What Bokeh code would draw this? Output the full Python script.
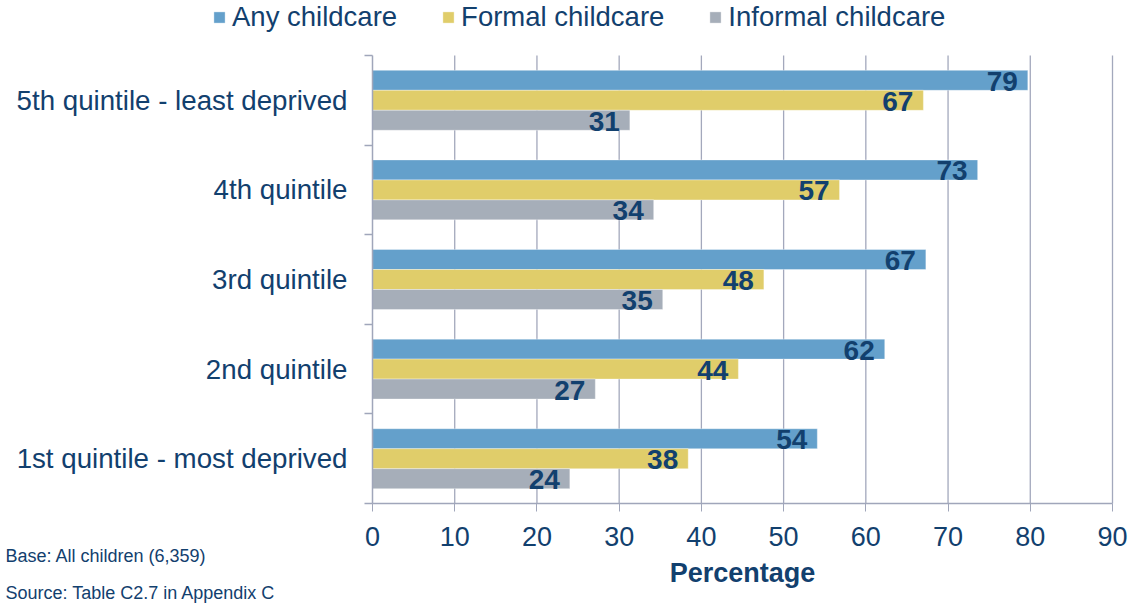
from bokeh.plotting import figure
from bokeh.models import (ColumnDataSource, FixedTicker, Legend, LegendItem, Label,
                          Range1d)
from bokeh.core.properties import value
from bokeh.embed import file_html
from bokeh.resources import INLINE

# ---- data (bottom to top) ----
categories = ["1st quintile - most deprived", "2nd quintile", "3rd quintile",
              "4th quintile", "5th quintile - least deprived"]
any_childcare = [54.1, 62.3, 67.3, 73.6, 79.7]
formal_childcare = [38.4, 44.5, 47.6, 56.8, 67.0]
informal_childcare = [24.0, 27.1, 35.3, 34.2, 31.3]
any_labels = ["54", "62", "67", "73", "79"]
formal_labels = ["38", "44", "48", "57", "67"]
informal_labels = ["24", "27", "35", "34", "31"]
series_names = ["Any childcare", "Formal childcare", "Informal childcare"]
x_ticks = [0, 10, 20, 30, 40, 50, 60, 70, 80, 90]
note_base = "Base: All children (6,359)"
note_source = "Source: Table C2.7 in Appendix C"

TXT = "#12406E"
AXC = "#A0A6BA"
FONT = "Liberation Sans"
colors = ["#64A0CB", "#E0CD6A", "#A6AEB9"]
bar_h = 0.223
offsets = [bar_h, 0.0, -bar_h]

# ---- layout: the frame fills the canvas; plot area in pixels ----
W, H = 1132, 606
PL, PR, PT, PB = 372, 1112, 55, 503          # plot area edges (px)
XMAX = x_ticks[-1]
NCAT = len(categories)
ux = (PR - PL) / XMAX                          # px per x unit
uy = (PB - PT) / NCAT                          # px per category
x_range = Range1d(-PL / ux, XMAX + (W - PR) / ux)
y_range = Range1d(-(H - PB) / uy, NCAT + PT / uy)

p = figure(width=W, height=H, output_backend="svg", toolbar_location=None,
           x_range=x_range, y_range=y_range,
           min_border_left=0, min_border_right=0, min_border_top=0,
           min_border_bottom=0, outline_line_color=None)
p.xgrid.visible = False
p.ygrid.visible = False

# vertical grid lines across the plot area
p.segment(x0=x_ticks[1:], x1=x_ticks[1:], y0=0, y1=NCAT,
          line_color="#A3A8BC", line_width=1.3)

centers = [i + 0.5 for i in range(NCAT)]
renderers = []
for vals, labs, col, off in zip([any_childcare, formal_childcare, informal_childcare],
                                [any_labels, formal_labels, informal_labels],
                                colors, offsets):
    src = ColumnDataSource(dict(y=[c + off for c in centers], x=vals, lab=labs))
    r = p.hbar(y="y", right="x", left=0, height=bar_h, source=src,
               fill_color=col, line_color="white", line_alpha=0.35, line_width=1)
    renderers.append(r)
    p.text(x="x", y="y", text="lab", source=src, text_align="right",
           text_baseline="middle", x_offset=-10, y_offset=1,
           text_font=value(FONT), text_font_style="bold",
           text_font_size="28px", text_color=TXT)

# x axis, pinned at y = 0
xa = p.xaxis[0]
xa.fixed_location = 0
xa.bounds = (0, XMAX)
xa.ticker = FixedTicker(ticks=x_ticks)
xa.axis_line_color = AXC
xa.axis_line_width = 1.5
xa.major_tick_line_color = AXC
xa.major_tick_out = 8
xa.major_tick_in = 0
xa.minor_tick_line_color = None
xa.major_label_text_font = FONT
xa.major_label_text_font_size = "27px"
xa.major_label_text_color = TXT
xa.major_label_standoff = 15
xa.axis_label = "Percentage"
xa.axis_label_text_font = FONT
xa.axis_label_text_font_style = "bold"
xa.axis_label_text_font_size = "27px"
xa.axis_label_text_color = TXT
xa.axis_label_standoff = 9

# y axis, pinned at x = 0: labels at centres, tick marks at group boundaries
ya = p.yaxis[0]
ya.fixed_location = 0
ya.bounds = (0, NCAT)
ya.ticker = FixedTicker(ticks=centers, minor_ticks=list(range(NCAT + 1)))
ya.major_label_overrides = {c: cat for c, cat in zip(centers, categories)}
ya.axis_line_color = AXC
ya.axis_line_width = 1.5
ya.major_tick_line_color = None
ya.major_tick_out = 0
ya.major_tick_in = 0
ya.minor_tick_line_color = AXC
ya.minor_tick_line_width = 1.5
ya.minor_tick_out = 8
ya.minor_tick_in = 0
ya.major_label_text_font = FONT
ya.major_label_text_font_size = "27.7px"
ya.major_label_text_color = TXT
ya.major_label_standoff = 17

# series legend at the top
legend = Legend(items=[LegendItem(label=n, renderers=[r]) for n, r in zip(series_names, renderers)],
                orientation="horizontal", location=(212, 573),
                label_text_font=FONT, label_text_font_size="27.5px",
                label_text_color=TXT, glyph_width=14, glyph_height=14,
                label_standoff=6, spacing=44, padding=0, margin=0,
                background_fill_alpha=0, border_line_color=None,
                label_height=28)
p.add_layout(legend, "center")

# footnotes
for txt, yy in [(note_base, 51), (note_source, 14)]:
    p.add_layout(Label(x=5, y=yy, x_units="screen", y_units="screen", text=txt,
                       text_font=FONT, text_font_size="18px", text_color=TXT,
                       text_baseline="middle"))

open("out.html", "w").write(file_html(p, INLINE))
